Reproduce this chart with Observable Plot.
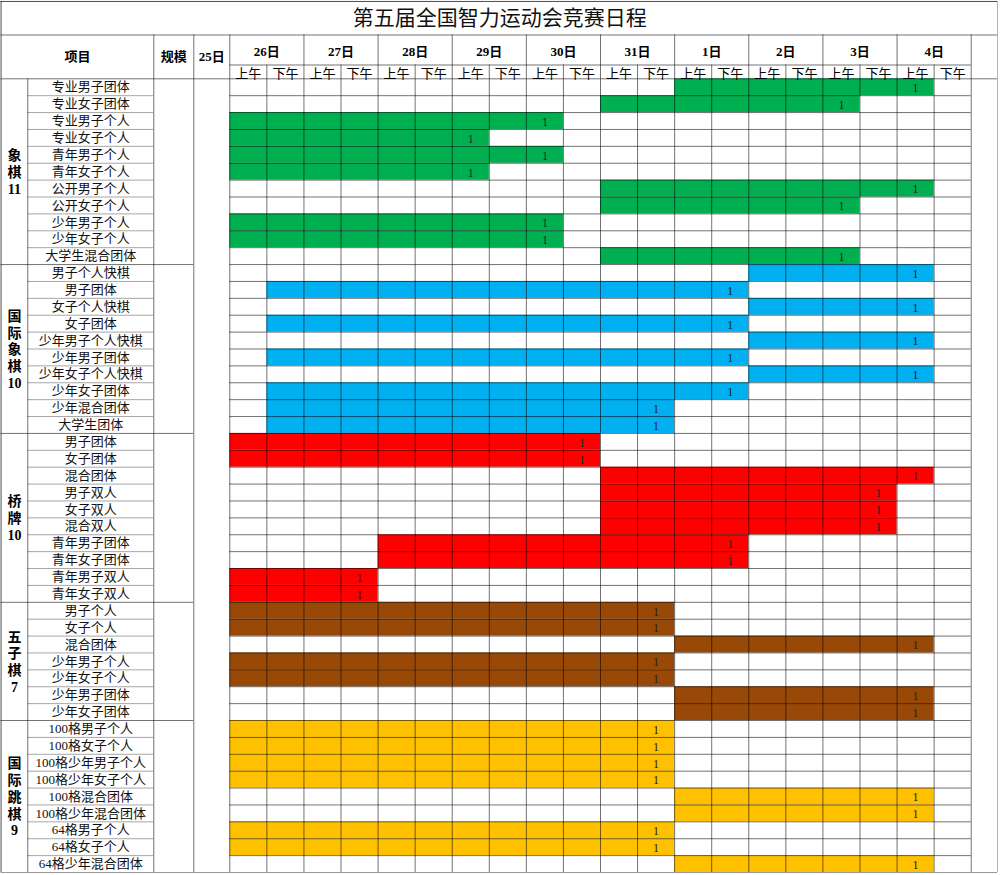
<!DOCTYPE html>
<html>
<head>
<meta charset="utf-8">
<script src="https://cdn.jsdelivr.net/npm/d3@7"></script>
<script src="https://cdn.jsdelivr.net/npm/@observablehq/plot@0.6"></script>
<style>
  html, body { margin: 0; padding: 0; background: #fff; }
</style>
</head>
<body>
<div id="chart"></div>
<script>
// ---------- data ----------
const title = "第五届全国智力运动会竞赛日程";
const days = ["26日","27日","28日","29日","30日","31日","1日","2日","3日","4日"];
const halves = ["上午","下午"];
const headerLabels = ["项目","规模","25日"];

const sportNames = ["象棋","国际象棋","桥牌","五子棋","国际跳棋"];
const sportScale = [11,10,10,7,9];
const sportColors = ["#00B050","#00B0F0","#FF0000","#984807","#FFC000"];

// [event, first half-day, last half-day, medals]
const xiangqi = [
  ["专业男子团体","1日上午","4日上午",1],
  ["专业女子团体","31日上午","3日上午",1],
  ["专业男子个人","26日上午","30日上午",1],
  ["专业女子个人","26日上午","29日上午",1],
  ["青年男子个人","26日上午","30日上午",1],
  ["青年女子个人","26日上午","29日上午",1],
  ["公开男子个人","31日上午","4日上午",1],
  ["公开女子个人","31日上午","3日上午",1],
  ["少年男子个人","26日上午","30日上午",1],
  ["少年女子个人","26日上午","30日上午",1],
  ["大学生混合团体","31日上午","3日上午",1]
];
const guojixiangqi = [
  ["男子个人快棋","2日上午","4日上午",1],
  ["男子团体","26日下午","1日下午",1],
  ["女子个人快棋","2日上午","4日上午",1],
  ["女子团体","26日下午","1日下午",1],
  ["少年男子个人快棋","2日上午","4日上午",1],
  ["少年男子团体","26日下午","1日下午",1],
  ["少年女子个人快棋","2日上午","4日上午",1],
  ["少年女子团体","26日下午","1日下午",1],
  ["少年混合团体","26日下午","31日下午",1],
  ["大学生团体","26日下午","31日下午",1]
];
const qiaopai = [
  ["男子团体","26日上午","30日下午",1],
  ["女子团体","26日上午","30日下午",1],
  ["混合团体","31日上午","4日上午",1],
  ["男子双人","31日上午","3日下午",1],
  ["女子双人","31日上午","3日下午",1],
  ["混合双人","31日上午","3日下午",1],
  ["青年男子团体","28日上午","1日下午",1],
  ["青年女子团体","28日上午","1日下午",1],
  ["青年男子双人","26日上午","27日下午",1],
  ["青年女子双人","26日上午","27日下午",1]
];
const wuziqi = [
  ["男子个人","26日上午","31日下午",1],
  ["女子个人","26日上午","31日下午",1],
  ["混合团体","1日上午","4日上午",1],
  ["少年男子个人","26日上午","31日下午",1],
  ["少年女子个人","26日上午","31日下午",1],
  ["少年男子团体","1日上午","4日上午",1],
  ["少年女子团体","1日上午","4日上午",1]
];
const tiaoqi = [
  ["100格男子个人","26日上午","31日下午",1],
  ["100格女子个人","26日上午","31日下午",1],
  ["100格少年男子个人","26日上午","31日下午",1],
  ["100格少年女子个人","26日上午","31日下午",1],
  ["100格混合团体","1日上午","4日上午",1],
  ["100格少年混合团体","1日上午","4日上午",1],
  ["64格男子个人","26日上午","31日下午",1],
  ["64格女子个人","26日上午","31日下午",1],
  ["64格少年混合团体","1日上午","4日上午",1]
];
const sportEvents = [xiangqi, guojixiangqi, qiaopai, wuziqi, tiaoqi];

// ---------- derived tables ----------
const slots = days.flatMap(d => halves.map(h => d + h));
const slotIndex = new Map(slots.map((s, i) => [s, i]));

const rows = [];
const groups = [];
sportEvents.forEach((list, si) => {
  const start = rows.length;
  list.forEach(([name, from, to, medals]) => {
    rows.push({row: rows.length, name, sport: sportNames[si],
      from: slotIndex.get(from), to: slotIndex.get(to), medals});
  });
  groups.push({sport: sportNames[si], scale: sportScale[si], start, end: rows.length});
});
const nRows = rows.length;
const nSlots = slots.length;

// ---------- layout (table column / row edges in scale units) ----------
const X_LEFT = -6.17, X_EVT = -5.45, X_SCALE = -2.05, X_25 = -0.971, X_RIGHT = 20.71;
const Y_TOP = -4.58, Y_HEAD = -2.594, Y_HALF = -0.817;

const font = "'Liberation Serif','Noto Sans CJK SC',serif";
const lineColor = "#000";
const lineOp = 0.55;

const hLine = (ys, x1, x2, opts = {}) =>
  Plot.ruleY(ys, {y: d => d, x1, x2, stroke: lineColor, strokeOpacity: lineOp, ...opts});
const vLine = (xs, y1, y2, opts = {}) =>
  Plot.ruleX(xs, {x: d => d, y1, y2, stroke: lineColor, strokeOpacity: lineOp, ...opts});

const rowEdges = d3.range(1, nRows);
const groupEdges = groups.slice(1).map(g => g.start);
const eventEdges = rowEdges.filter(r => !groupEdges.includes(r));

const chart = Plot.plot({
  width: 1000,
  height: 875,
  margin: 0,
  x: {domain: [0, nSlots], range: [229.3, 970.7], axis: null},
  y: {domain: [0, nRows], range: [78.3, 872], axis: null},
  color: {domain: sportNames, range: sportColors},
  style: {fontFamily: font, background: "#fff", color: "#000"},
  marks: [
    // schedule bars
    Plot.rect(rows, {x1: d => d.from, x2: d => d.to + 1, y1: d => d.row, y2: d => d.row + 1, fill: "sport"}),

    // grid lines in schedule area
    hLine(rowEdges, 0, nSlots),
    vLine(d3.range(0, nSlots + 1), 0, nRows),
    // event name row lines (lighter)
    hLine(eventEdges, X_EVT, X_SCALE, {strokeOpacity: 0.35}),
    // group separators
    hLine(groupEdges, X_LEFT, X_25),
    // left column verticals
    vLine([X_EVT], 0, nRows),
    vLine([X_SCALE, X_25], Y_HEAD, nRows),
    // header
    vLine(d3.range(0, nSlots + 1, 2), Y_HEAD, 0),
    vLine(d3.range(1, nSlots, 2), Y_HALF, 0),
    hLine([Y_HALF], 0, nSlots),
    hLine([Y_HEAD, 0], X_LEFT, X_RIGHT),
    // outer border
    hLine([Y_TOP], X_LEFT, X_RIGHT, {strokeOpacity: 0.7}),
    hLine([nRows], X_LEFT, X_RIGHT, {strokeOpacity: 0.4}),
    vLine([X_LEFT], Y_TOP, nRows, {strokeOpacity: 0.7}),
    vLine([X_RIGHT], Y_TOP, nRows, {strokeOpacity: 0.3}),

    // title
    Plot.text([title], {x: () => 7.28, y: () => -3.57, text: d => d, fontSize: 21, fill: "#111"}),
    // header labels
    Plot.text(headerLabels, {
      x: (d, i) => [(X_LEFT + X_SCALE) / 2, (X_SCALE + X_25) / 2, X_25 / 2][i],
      y: () => -1.3, text: d => d, fontSize: 13, fontWeight: "bold"
    }),
    Plot.text(days, {x: (d, i) => 2 * i + 1, y: () => -1.62, text: d => d, fontSize: 13, fontWeight: "bold"}),
    Plot.text(slots, {x: (d, i) => i + 0.5, y: () => -0.3, text: (d, i) => halves[i % 2], fontSize: 13}),

    // category labels
    Plot.text(groups, {
      x: () => (X_LEFT + X_EVT) / 2,
      y: d => (d.start + d.end) / 2,
      text: d => [...d.sport].join("\n") + "\n" + d.scale,
      fontSize: 14, fontWeight: "bold", lineHeight: 1.2
    }),
    // event names
    Plot.text(rows, {x: () => (X_EVT + X_SCALE) / 2, y: d => d.row + 0.5, text: "name", fontSize: 13, fill: "#111"}),
    // medal counts in last cell
    Plot.text(rows, {x: d => d.to + 0.5, y: d => d.row + 0.5, dy: 1, text: d => String(d.medals), fontSize: 12, fill: "#222"})
  ]
});

document.getElementById("chart").appendChild(chart);
</script>
</body>
</html>
